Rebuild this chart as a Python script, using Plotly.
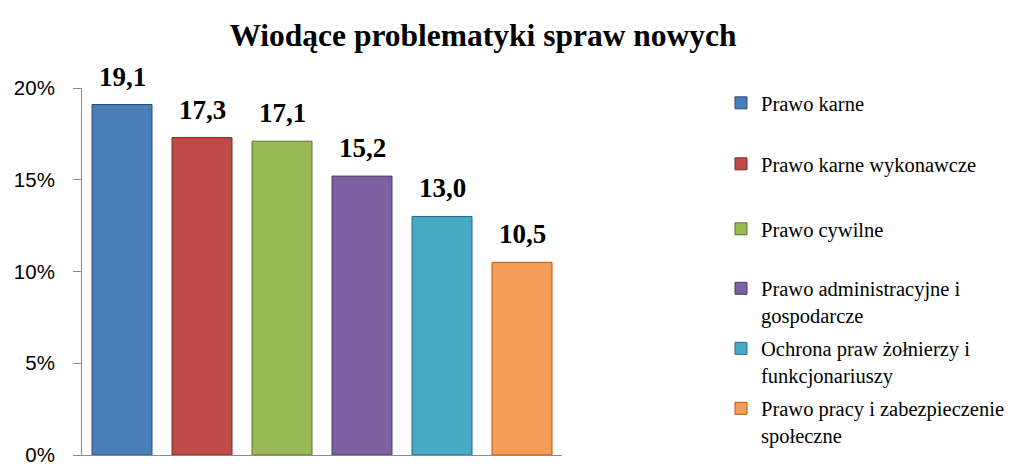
import plotly.graph_objects as go

categories = ["Prawo karne", "Prawo karne wykonawcze", "Prawo cywilne",
              "Prawo administracyjne i<br>gospodarcze",
              "Ochrona praw żołnierzy i<br>funkcjonariuszy",
              "Prawo pracy i zabezpieczenie<br>społeczne"]
values = [19.1, 17.3, 17.1, 15.2, 13.0, 10.5]
colors = ["#4A7EBB", "#BE4B48", "#98B954", "#7D60A0", "#46AAC5", "#F59D56"]
edge_colors = ["#2C4D75", "#772C2A", "#5F7530", "#4D3B62", "#276A7C", "#B65708"]
y_ticks = [0, 5, 10, 15, 20]
y_tick_labels = ["0%", "5%", "10%", "15%", "20%"]
legend_centers_px = [103, 164, 229, 302, 362, 422]

L, R, T, B = 82, 1016 - 562, 88, 12
H = 467 - T - B
SERIF = "Liberation Serif"

fig = go.Figure()
for i, (c, v) in enumerate(zip(categories, values)):
    lg = "legend" if i == 0 else f"legend{i+1}"
    fig.add_trace(go.Bar(
        x=[i], y=[v], name=c,
        marker=dict(color=colors[i], line=dict(color=edge_colors[i], width=1)),
        width=0.75, legend=lg, showlegend=True, hoverinfo="skip",
    ))
    fig.add_annotation(x=i, y=v, text=f"<b>{v:.1f}</b>".replace(".", ","),
                       showarrow=False, yanchor="bottom", yshift=11,
                       font=dict(family=SERIF, size=27, color="black"))

layout_legends = {}
for i, cy in enumerate(legend_centers_px):
    key = "legend" if i == 0 else f"legend{i+1}"
    layout_legends[key] = dict(
        x=(721 - L) / 480, xanchor="left",
        y=(467 - B - cy) / H, yanchor="middle",
        bgcolor="rgba(0,0,0,0)", borderwidth=0,
        font=dict(family=SERIF, size=20.5, color="black"),
        itemwidth=30, valign="top", tracegroupgap=0,
    )

fig.update_layout(
    width=1016, height=467,
    margin=dict(l=L, r=R, t=T, b=B, autoexpand=False),
    font=dict(family=SERIF, size=21, color="black"),
    paper_bgcolor="white", plot_bgcolor="white",
    barmode="overlay",
    title=dict(text="<b>Wiodące problematyki spraw nowych</b>",
               x=483 / 1016, xanchor="center", y=1 - 35 / 467, yanchor="middle",
               font=dict(family=SERIF, size=31.5, color="black")),
    xaxis=dict(range=[-0.5, 5.5], showticklabels=False, showgrid=False,
               zeroline=False, showline=True, linecolor="#8C8C8C", linewidth=1,
               ticks="", fixedrange=True),
    yaxis=dict(range=[0, 20], tickvals=y_ticks, ticktext=y_tick_labels,
               showgrid=False, zeroline=False, showline=True, linecolor="#8C8C8C",
               linewidth=1, ticks="outside", ticklen=8, tickcolor="#8C8C8C",
               ticklabelstandoff=14,
               tickfont=dict(family="Liberation Sans", size=20.5, color="black")),
    **layout_legends,
)

fig.write_html("out.html", config={"displayModeBar": False},
               post_script="document.body.style.margin='0';document.body.style.overflow='hidden';")
